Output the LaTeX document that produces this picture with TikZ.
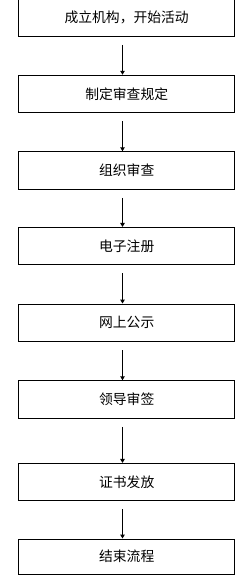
\documentclass[tikz,border=0pt]{standalone}
\usepackage{fontspec}
\newfontfamily\cjk{Noto Sans CJK SC}
\usetikzlibrary{arrows.meta}

\begin{document}
\begin{tikzpicture}[x=1pt, y=-1pt,
  every node/.style={font=\cjk\fontsize{13.8}{16}\selectfont},
  stepbox/.style={draw, line width=1pt, rectangle, minimum width=216.5pt,
                  minimum height=37.5pt, inner sep=2pt, align=center},
  ar/.style={-{Triangle[length=4pt,width=4.5pt]}, line width=1pt}]

\useasboundingbox (0,0) rectangle (248,584);

%% --- Steps ---
\node[stepbox] (FOUND)  at (126.7, 17.6)  {成立机构，开始活动};
\node[stepbox] (RULES)  at (126.7, 94.0)  {制定审查规定};
\node[stepbox] (REVIEW) at (126.7,170.5)  {组织审查};
\node[stepbox] (REG)    at (126.7,246.2)  {电子注册};
\node[stepbox] (PUBL)   at (126.7,322.8)  {网上公示};
\node[stepbox] (SIGN)   at (126.7,399.5)  {领导审签};
\node[stepbox] (ISSUE)  at (126.7,482.2)  {证书发放};
\node[stepbox, minimum height=35pt] (ENDF) at (126.7,556.5) {结束流程};

%% --- Arrows ---
\foreach \a/\b in {FOUND/RULES, RULES/REVIEW, REVIEW/REG, REG/PUBL,
                   PUBL/SIGN, SIGN/ISSUE, ISSUE/ENDF}
  \draw[ar] ([xshift=-4.2pt,yshift=-8pt]\a.south) -- ([xshift=-4.2pt]\b.north);
\end{tikzpicture}
\end{document}
